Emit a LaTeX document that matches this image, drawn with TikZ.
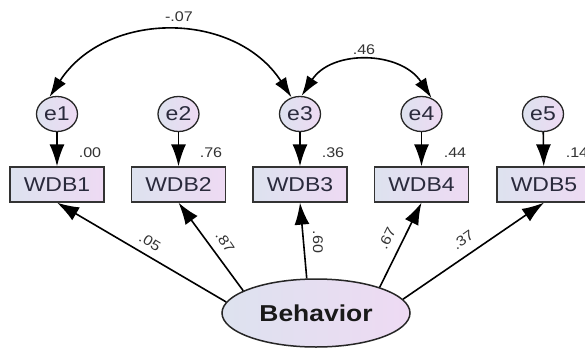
\documentclass[tikz,border=0pt]{standalone}
\usepackage{fontspec}
\setmainfont{Liberation Sans}[FakeStretch=1.15]
\usetikzlibrary{arrows.meta,shapes.geometric}

\definecolor{boxL}{HTML}{DDE2EF}
\definecolor{boxR}{HTML}{EEDAF3}
\definecolor{errF}{HTML}{E6DDF0}
\definecolor{txt}{HTML}{2A2A3C}

\begin{document}
\begin{tikzpicture}[x=1pt,y=1pt,
  obs/.style={draw=black!80, line width=1.3pt, minimum width=94pt, minimum height=35pt,
    inner sep=0pt, left color=boxL, right color=boxR, text=txt,
    font=\fontsize{20}{20}\selectfont},
  err/.style={ellipse, draw=black!85, line width=1.3pt, minimum width=41pt, minimum height=35pt,
    inner sep=0pt, left color=boxL, right color=boxR, text=txt,
    font=\fontsize{20}{20}\selectfont},
  lat/.style={ellipse, draw=black!85, line width=1.5pt, minimum width=188pt, minimum height=68pt,
    inner sep=0pt, left color=boxL, right color=boxR, text=black!90,
    font=\bfseries\fontsize{23}{23}\selectfont},
  reg/.style={line width=1.6pt, -{Latex[length=22pt,width=15pt]}},
  cov/.style={line width=1.6pt, {Latex[length=20pt,width=13pt]}-{Latex[length=20pt,width=13pt]}},
  coef/.style={font=\fontsize{14}{14}\selectfont, text=black!80, inner sep=0pt}
]
\fill[white] (0,0) rectangle (585,-350);
\useasboundingbox (0,0) rectangle (585,-350);

% error terms
\node[err] (e1) at (57,-114) {e1};
\node[err] (e2) at (178.5,-114) {e2};
\node[err] (e3) at (300,-114) {e3};
\node[err] (e4) at (421.5,-114) {e4};
\node[err] (e5) at (543,-114) {e5};

% observed indicators
\node[obs] (w1) at (57,-184.5) {WDB1};
\node[obs] (w2) at (178.5,-184.5) {WDB2};
\node[obs] (w3) at (300,-184.5) {WDB3};
\node[obs] (w4) at (421.5,-184.5) {WDB4};
\node[obs] (w5) at (544,-184.5) {WDB5};

% latent factor
\node[lat] (beh) at (316,-313) {Behavior};

% error paths
\foreach \i in {1,...,5} \draw[reg] (e\i) -- (w\i);

% squared multiple correlations
\node[coef] at (90,-153) {.00};
\node[coef] at (211,-153) {.76};
\node[coef] at (333,-153) {.36};
\node[coef] at (455,-153) {.44};
\node[coef] at (577,-153) {.14};

% factor loadings
\draw[reg] (beh.173) -- (w1.south);
\draw[reg] (beh.163) -- (w2.south);
\draw[reg] (beh.105) -- (w3.south);
\draw[reg] (beh.22) -- (w4.south);
\draw[reg] (beh.9.6) -- (w5.south);

\node[coef, rotate=-31] at (150,-242) {.05};
\node[coef, rotate=-56] at (225,-242) {.87};
\node[coef, rotate=-90] at (318,-242) {.60};
\node[coef, rotate=64] at (387,-238) {.67};
\node[coef, rotate=35] at (463,-240) {.37};

% error covariances
\draw[cov] (e1.114) to[out=57,in=123,looseness=1.1] (e3.117);
\draw[cov] (e3.85) to[out=57,in=123,looseness=1.1] (e4.58);
\node[coef] at (179,-17) {-.07};
\node[coef] at (364,-50) {.46};
\end{tikzpicture}
\end{document}
